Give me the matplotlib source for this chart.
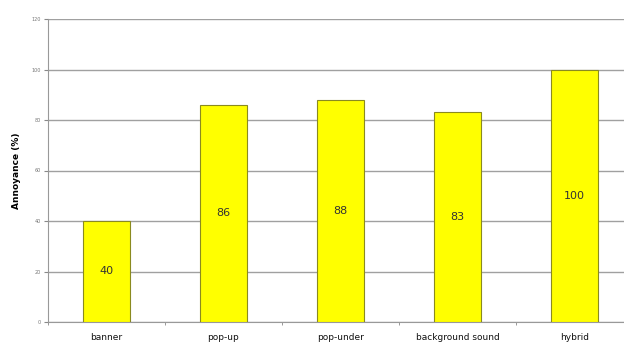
import matplotlib
matplotlib.use("Agg")
import matplotlib.pyplot as plt
import numpy as np

categories = ["banner", "pop-up", "pop-under", "background sound", "hybrid"]
annoyance = [40, 86, 88, 83, 100]
yticks = [0, 20, 40, 60, 80, 100, 120]

fig = plt.figure(figsize=(6.24, 3.44), dpi=100)
# plot area runs past the right edge, as in the (cropped) original
ax = fig.add_axes([48 / 624, 22 / 344, 585 / 624, 303 / 344])

x = np.arange(len(categories))
bars = ax.bar(x, annoyance, width=0.4, color="#ffff00", edgecolor="#8a8a20",
              linewidth=0.8, zorder=3)

for b, v in zip(bars, annoyance):
    ax.text(b.get_x() + b.get_width() / 2, v / 2, str(v), ha="center",
            va="center", fontsize=8, color="#333333", zorder=4)

ax.set_xlim(-0.5, len(categories) - 0.5)
ax.set_ylim(0, 120)
ax.set_yticks(yticks)
ax.set_yticklabels([str(t) for t in yticks], fontsize=3.5, color="#777777")
ax.yaxis.grid(True, color="#a0a0a0", linewidth=1.0, zorder=0)

ax.set_xticks(x)
ax.set_xticklabels(categories, fontsize=6.5, color="#111111")
ax.tick_params(axis="x", length=0, pad=8)
ax.set_xticks(np.arange(len(categories) + 1) - 0.5, minor=True)
ax.tick_params(axis="x", which="minor", length=2, color="#888888")
ax.tick_params(axis="y", length=3, color="#888888", pad=2)

for s in ["top", "right"]:
    ax.spines[s].set_visible(False)
ax.spines["left"].set_color("#999999")
ax.spines["bottom"].set_color("#999999")

ax.set_ylabel("Annoyance (%)", fontsize=6.5, fontweight="bold", labelpad=8)

fig.savefig("out.png", dpi=100)
